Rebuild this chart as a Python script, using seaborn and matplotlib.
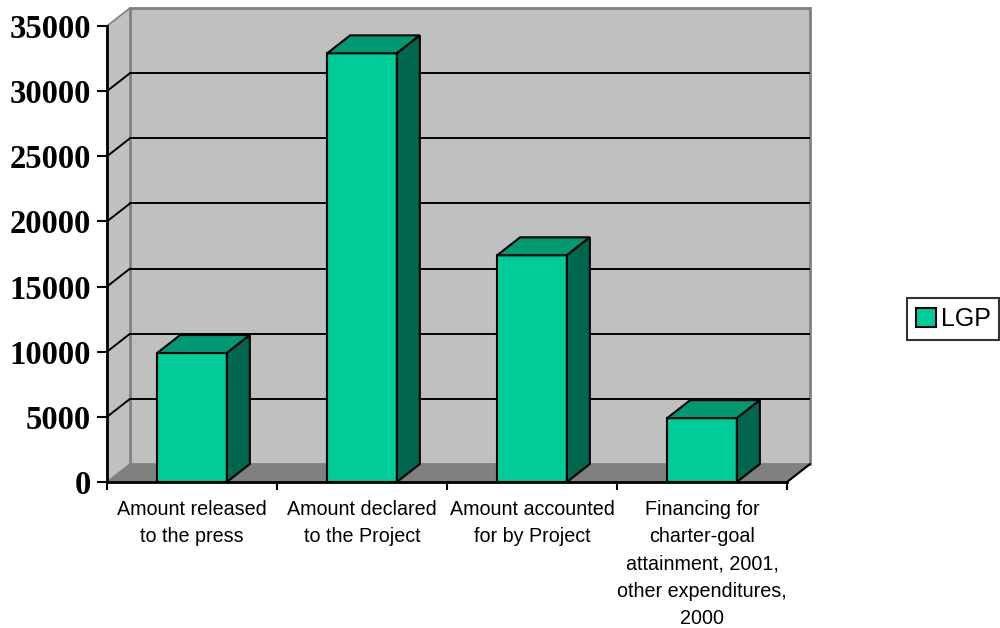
import matplotlib
matplotlib.use("Agg")
import matplotlib.pyplot as plt
from matplotlib.patches import Polygon, Patch
import seaborn as sns
import pandas as pd

# Data
categories = [
    "Amount released\nto the press",
    "Amount declared\nto the Project",
    "Amount accounted\nfor by Project",
    "Financing for\ncharter-goal\nattainment, 2001,\nother expenditures,\n2000",
]
values = [9900, 32900, 17400, 4900]
series_name = "LGP"
y_ticks = [0, 5000, 10000, 15000, 20000, 25000, 30000, 35000]

# Style
FRONT = "#00CC99"
TOP = "#009973"
SIDE = "#00664D"
WALL = "#C0C0C0"
FLOOR = "#808080"
EDGE_GRAY = "#808080"

sns.set_style("white")
plt.rcParams["font.family"] = ["Liberation Sans", "DejaVu Sans"]
plt.rcParams["text.color"] = "black"

fig = plt.figure(figsize=(10, 6.28), dpi=100)
ax = fig.add_axes([0.107, (628 - 482) / 628, 0.703, (482 - 8) / 628])

y_max = y_ticks[-1]
DX = 23 / 170.0     # depth offset in category units
DY = 1380.0         # depth offset in value units
x_lo, x_hi = -0.5, len(categories) - 0.5

df = pd.DataFrame({"category": categories, "value": values})
sns.barplot(data=df, x="category", y="value", width=0.41, color=FRONT,
            saturation=1, edgecolor="black", linewidth=1.5, ax=ax)

ax.set_xlim(x_lo, x_hi + DX)
ax.set_ylim(0, y_max + DY)
ax.set_facecolor("white")

# Floor
ax.add_patch(Polygon([(x_lo, 0), (x_hi, 0), (x_hi + DX, DY), (x_lo + DX, DY)],
                     closed=True, facecolor=FLOOR, edgecolor=EDGE_GRAY,
                     linewidth=1.2, zorder=0.2))
# Back wall
ax.add_patch(Polygon([(x_lo + DX, DY), (x_hi + DX, DY), (x_hi + DX, y_max + DY),
                      (x_lo + DX, y_max + DY)], closed=True, facecolor=WALL,
                     edgecolor=EDGE_GRAY, linewidth=2, zorder=0.2, clip_on=False))
# Side wall
ax.add_patch(Polygon([(x_lo, 0), (x_lo, y_max), (x_lo + DX, y_max + DY), (x_lo + DX, DY)],
                     closed=True, facecolor=WALL, edgecolor=EDGE_GRAY,
                     linewidth=1.2, zorder=0.2, clip_on=False))

# Gridlines on the walls
for v in y_ticks[1:-1]:
    ax.plot([x_lo + DX, x_hi + DX], [v + DY, v + DY], color="black", lw=1.4, zorder=0.5)
    ax.plot([x_lo, x_lo + DX], [v, v + DY], color="black", lw=1.4, zorder=0.5)

# Right edge of the floor
ax.plot([x_hi, x_hi + DX], [0, DY], color="black", lw=1.5, zorder=0.6, clip_on=False)

# 3D tops and sides of the bars
for p in ax.patches:
    if not isinstance(p, matplotlib.patches.Rectangle):
        continue
    x0, w, h = p.get_x(), p.get_width(), p.get_height()
    if h <= 0:
        continue
    p.set_zorder(2)
    ax.add_patch(Polygon([(x0, h), (x0 + w, h), (x0 + w + DX, h + DY), (x0 + DX, h + DY)],
                         closed=True, facecolor=TOP, edgecolor="black",
                         linewidth=1.5, zorder=2, joinstyle="miter"))
    ax.add_patch(Polygon([(x0 + w, 0), (x0 + w + DX, DY), (x0 + w + DX, h + DY), (x0 + w, h)],
                         closed=True, facecolor=SIDE, edgecolor="black",
                         linewidth=1.5, zorder=2, joinstyle="miter"))

# Axes lines
for s in ["top", "right"]:
    ax.spines[s].set_visible(False)
ax.spines["left"].set_bounds(0, y_max)
ax.spines["left"].set_color("black")
ax.spines["left"].set_linewidth(2)
ax.spines["left"].set_zorder(3)
ax.spines["bottom"].set_bounds(x_lo, x_hi)
ax.spines["bottom"].set_color("black")
ax.spines["bottom"].set_linewidth(2)
ax.spines["bottom"].set_zorder(3)

ax.set_yticks(y_ticks)
ax.set_yticklabels([str(t) for t in y_ticks], family=["Liberation Serif", "DejaVu Serif"],
                   fontweight="bold", fontsize=23.5, color="black")
ax.tick_params(axis="y", direction="out", length=7.5, width=1.5, color="black",
               pad=4, left=True, labelcolor="black")

ax.set_xticks(range(len(categories)))
ax.set_xticklabels(categories, fontsize=14.2, linespacing=1.55, ha="center",
                   multialignment="center", color="black")
ax.set_xticks([x_lo + i for i in range(len(categories) + 1)], minor=True)
ax.tick_params(axis="x", which="major", length=0, pad=13, labelcolor="black")
ax.tick_params(axis="x", which="minor", direction="out", length=6, width=1.5,
               color="black", bottom=True)
ax.set_xlabel("")
ax.set_ylabel("")
ax.grid(False)

# Legend
leg = fig.legend(handles=[Patch(facecolor=FRONT, edgecolor="black", linewidth=1.5)],
                 labels=[series_name], loc="upper left",
                 bbox_to_anchor=(0.907, 1 - 298 / 628), fontsize=18,
                 frameon=True, fancybox=False, handlelength=0.8, handleheight=0.8,
                 handletextpad=0.2, borderpad=0.35, borderaxespad=0, labelcolor="black")
leg.get_frame().set_edgecolor("black")
leg.get_frame().set_linewidth(1.5)

fig.savefig("out.png", dpi=100, facecolor="white")
